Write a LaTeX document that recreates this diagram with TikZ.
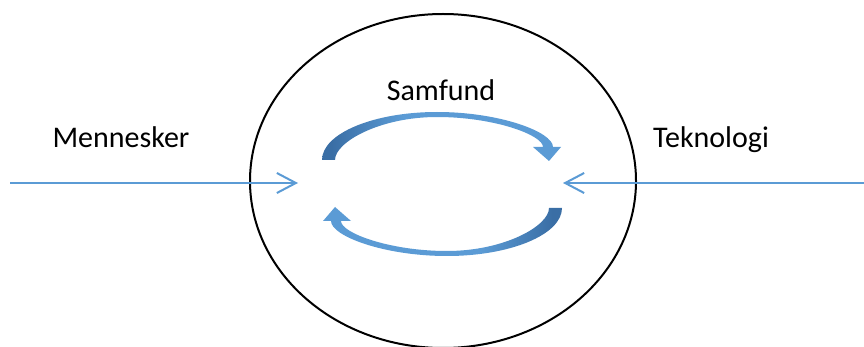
\documentclass[tikz,border=0pt]{standalone}
\usepackage{fontspec}
\setmainfont{Carlito}
\usetikzlibrary{arrows.meta}
\definecolor{lineblue}{HTML}{5B9BD5}
\definecolor{arrowdark}{HTML}{3A6EA5}
\definecolor{arrowlight}{HTML}{5B9BD5}
\pgfdeclarehorizontalshading{darkleft}{100bp}{color(0bp)=(arrowdark); color(27bp)=(arrowdark); color(42bp)=(arrowlight); color(100bp)=(arrowlight)}
\pgfdeclarehorizontalshading{darkright}{100bp}{color(0bp)=(arrowlight); color(58bp)=(arrowlight); color(73bp)=(arrowdark); color(100bp)=(arrowdark)}

\begin{document}
\begin{tikzpicture}[x=1pt,y=-1pt,
  word/.style={font=\fontsize{30}{36}\selectfont, anchor=base},
  feed/.style={draw=lineblue, line width=2pt, -{Straight Barb[length=19pt,width=20pt]}}]
\useasboundingbox (0,0) rectangle (864,347);
\coordinate (mid) at (443,181);
\coordinate (menstart) at (10,183);
\coordinate (menend) at (298,183);
\coordinate (tekstart) at (864,183);
\coordinate (tekend) at (563,183);
\draw[line width=2pt] (mid) ellipse [x radius=193, y radius=167];
\draw[feed] (menstart)--(menend);
\draw[feed] (tekstart)--(tekend);
% upper curved arrow
\shade[shading=darkleft] (322,160) .. controls (322,133.5) and (373.5,112) .. (437,112)
  .. controls (500,112) and (553,132) .. (553,147) -- (561,147) -- (549,161) -- (533,147) -- (543,147)
  .. controls (543,135) and (494,117) .. (437,117)
  .. controls (380,117) and (335,142) .. (335,160) -- cycle;
% lower curved arrow
\shade[shading=darkright] (562,208) .. controls (562,234.5) and (510.5,256) .. (447,256)
  .. controls (384,256) and (331,236) .. (331,221) -- (323,221) -- (335,207) -- (351,221) -- (341,221)
  .. controls (341,233) and (390,251) .. (447,251)
  .. controls (504,251) and (549,226) .. (549,208) -- cycle;
\node[word] (samfund) at (441,101) {Samfund};
\node[word] (mennesker) at (121,148) {Mennesker};
\node[word] (teknologi) at (711,148) {Teknologi};
\end{tikzpicture}
\end{document}
